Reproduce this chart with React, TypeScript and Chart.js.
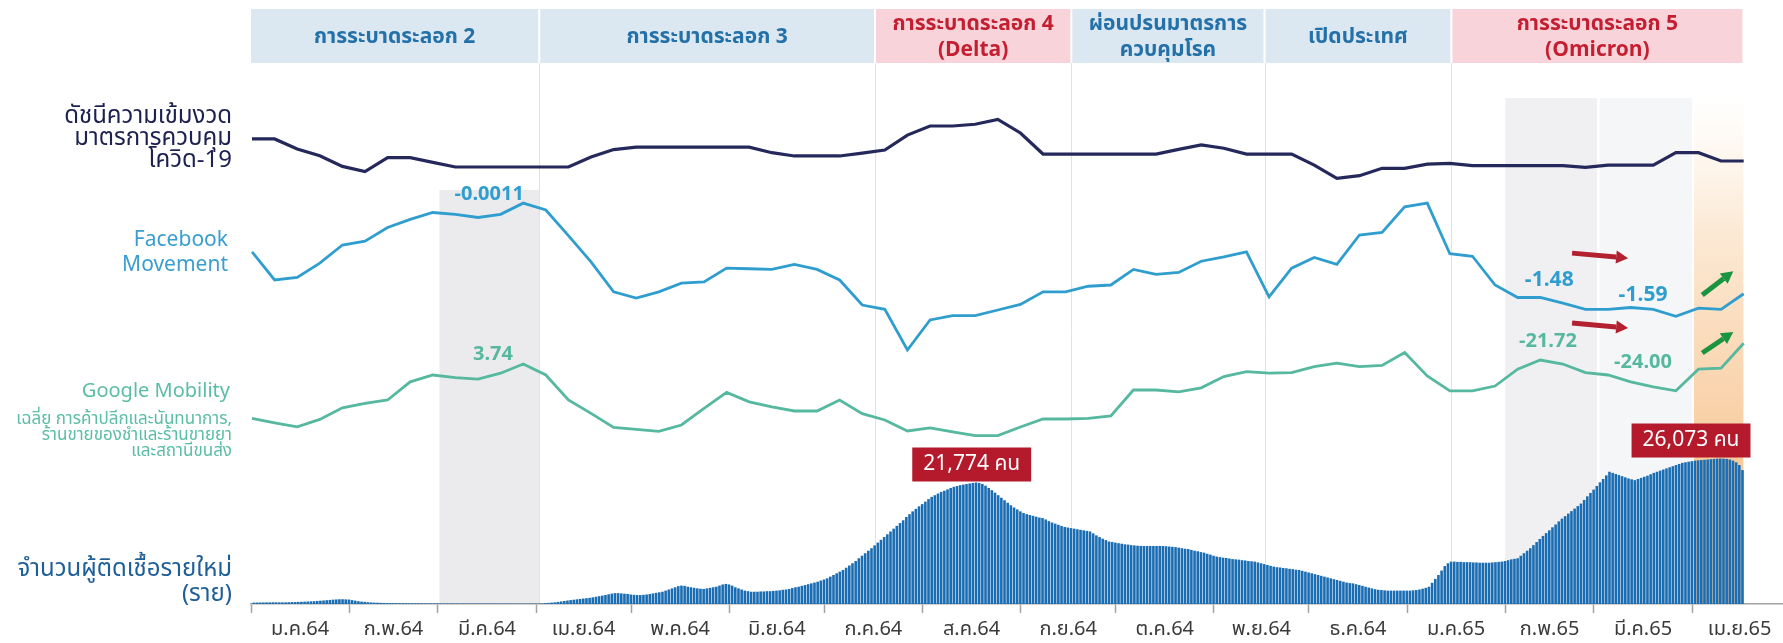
import React, { useEffect, useRef } from 'react';
import { Chart, registerables } from 'chart.js';

Chart.register(...registerables);

const FONT = "'Noto Sans Thai', 'Noto Sans Thai UI', 'Noto Sans', 'DejaVu Sans', sans-serif";

// ---------- x axis (days since 1 Jan 2021) ----------
const monthStartDays = [0, 31, 59, 90, 120, 151, 181, 212, 243, 273, 304, 334, 365, 396, 424, 455];
const monthEndDay = 485;
const monthLabels = ['ม.ค.64', 'ก.พ.64', 'มี.ค.64', 'เม.ย.64', 'พ.ค.64', 'มิ.ย.64', 'ก.ค.64', 'ส.ค.64', 'ก.ย.64', 'ต.ค.64', 'พ.ย.64', 'ธ.ค.64', 'ม.ค.65', 'ก.พ.65', 'มี.ค.65', 'เม.ย.65'];

// ---------- phases (header band) ----------
const phaseStartDays = [0, 91, 197, 259, 320, 379];
const phaseEndDays = [91, 197, 259, 320, 379, 471.2];
const phaseLabels = [
  ['การระบาดระลอก 2'],
  ['การระบาดระลอก 3'],
  ['การระบาดระลอก 4', '(Delta)'],
  ['ผ่อนปรนมาตรการ', 'ควบคุมโรค'],
  ['เปิดประเทศ'],
  ['การระบาดระลอก 5', '(Omicron)'],
];
const phaseIsWave = [false, false, true, false, false, true];

// ---------- weekly series ----------
const navyIndex = [66.2, 66.2, 61.0, 57.5, 52.0, 49.3, 56.5, 56.5, 54.1, 51.7,
  51.7, 51.7, 51.7, 51.7, 51.7, 56.9, 60.7, 62.0, 62.0, 62.0,
  62.0, 62.0, 62.0, 59.1, 57.4, 57.4, 57.4, 58.9, 60.5, 68.2,
  72.9, 72.9, 73.8, 76.3, 69.3, 58.4, 58.4, 58.4, 58.4, 58.4,
  58.4, 60.8, 63.1, 61.4, 58.4, 58.4, 58.4, 52.7, 45.8, 47.2,
  51.0, 51.0, 53.2, 53.6, 52.4, 52.4, 52.4, 52.4, 52.4, 51.5,
  52.7, 52.7, 52.7, 59.1, 59.1, 54.8, 54.8];

const facebookMovement = [-0.67, -1.12, -1.08, -0.85, -0.56, -0.50, -0.28, -0.15, -0.04, -0.07,
  -0.12, -0.07, 0.11, 0.00, -0.41, -0.83, -1.31, -1.41, -1.31, -1.17,
  -1.15, -0.93, -0.94, -0.95, -0.87, -0.95, -1.12, -1.52, -1.59, -2.24,
  -1.76, -1.69, -1.69, -1.60, -1.51, -1.31, -1.31, -1.22, -1.20, -0.95,
  -1.03, -1.00, -0.82, -0.75, -0.67, -1.39, -0.93, -0.76, -0.87, -0.40,
  -0.36, 0.05, 0.11, -0.70, -0.74, -1.20, -1.40, -1.40, -1.49, -1.59,
  -1.59, -1.56, -1.59, -1.70, -1.57, -1.59, -1.34];

const googleMobility = [-19.2, -21.4, -23.4, -19.7, -13.9, -11.7, -10.0, -0.9, 2.5, 1.2,
  0.4, 3.4, 8.0, 2.5, -10.0, -16.7, -23.7, -24.7, -25.7, -22.5,
  -14.2, -6.2, -10.9, -13.4, -15.5, -15.5, -10.0, -16.8, -20.0, -25.5,
  -23.9, -25.9, -27.8, -27.8, -23.5, -19.5, -19.5, -19.2, -17.9, -5.0,
  -5.0, -5.9, -3.9, 1.7, 4.2, 3.4, 3.7, 6.7, 8.4, 6.7,
  7.3, 13.7, 2.0, -5.4, -5.4, -3.0, 5.4, 10.0, 8.0, 3.7,
  2.5, -0.9, -3.4, -5.4, 5.4, 5.9, 18.4];

// ---------- daily new cases ----------
const casesJan21 = [250, 260, 270, 280, 290, 300, 310, 300, 290, 300, 300, 320, 340, 360, 380, 400, 420, 450, 480, 510, 550, 590, 630, 680, 730, 780, 820, 850, 850, 830, 800];
const casesFeb21 = [700, 600, 500, 430, 380, 330, 290, 250, 230, 210, 190, 180, 170, 160, 150, 150, 140, 140, 130, 130, 120, 120, 110, 110, 100, 100, 100, 100];
const casesMar21 = [90, 90, 90, 85, 85, 85, 80, 80, 80, 80, 80, 75, 75, 75, 75, 75, 70, 70, 70, 70, 70, 70, 65, 65, 65, 65, 65, 60, 60, 60, 60];
const casesApr21 = [60, 100, 150, 200, 250, 300, 380, 460, 540, 620, 700, 770, 840, 910, 980, 1040, 1100, 1200, 1300, 1400, 1500, 1620, 1740, 1860, 1950, 1950, 1900, 1850, 1800, 1700];
const casesMay21 = [1650, 1600, 1600, 1650, 1700, 1800, 1900, 2000, 2100, 2200, 2400, 2600, 2800, 3000, 3200, 3300, 3250, 3100, 3000, 2900, 2800, 2750, 2700, 2800, 2900, 3000, 3100, 3300, 3500, 3600, 3500];
const casesJun21 = [3300, 3000, 2800, 2600, 2400, 2300, 2200, 2200, 2200, 2250, 2250, 2300, 2300, 2350, 2400, 2450, 2550, 2600, 2700, 2850, 3000, 3100, 3250, 3400, 3550, 3700, 3850, 4000, 4200, 4400];
const casesJul21 = [4600, 4900, 5200, 5500, 5800, 6100, 6500, 6900, 7300, 7700, 8200, 8650, 9100, 9550, 10000, 10500, 11000, 11500, 12000, 12500, 13000, 13500, 14000, 14500, 15000, 15600, 16100, 16600, 17050, 17500, 17900];
const casesAug21 = [18350, 18800, 19200, 19500, 19800, 20100, 20300, 20550, 20800, 21000, 21150, 21300, 21400, 21500, 21600, 21700, 21774, 21700, 21500, 21200, 20800, 20400, 19950, 19500, 19050, 18600, 18150, 17700, 17300, 16950, 16600];
const casesSep21 = [16300, 16100, 15950, 15800, 15650, 15500, 15400, 15150, 14850, 14600, 14400, 14200, 14000, 13800, 13700, 13600, 13500, 13400, 13300, 13200, 13100, 13000, 12650, 12300, 12000, 11700, 11450, 11200, 11100, 11000];
const casesOct21 = [10900, 10800, 10700, 10650, 10550, 10500, 10450, 10400, 10400, 10400, 10400, 10400, 10400, 10400, 10400, 10350, 10300, 10250, 10200, 10100, 10000, 9900, 9850, 9700, 9550, 9450, 9300, 9200, 9000, 8850, 8650];
const casesNov21 = [8500, 8400, 8300, 8250, 8150, 8050, 8000, 7950, 7850, 7800, 7700, 7650, 7600, 7450, 7300, 7150, 7000, 6850, 6700, 6600, 6550, 6450, 6400, 6300, 6250, 6150, 6100, 5950, 5800, 5650];
const casesDec21 = [5500, 5350, 5200, 5050, 4900, 4750, 4600, 4450, 4300, 4150, 4000, 3850, 3750, 3700, 3550, 3400, 3250, 3100, 2950, 2800, 2650, 2550, 2500, 2450, 2400, 2400, 2400, 2400, 2400, 2400, 2400];
const casesJan22 = [2400, 2450, 2500, 2600, 2750, 2900, 3100, 3800, 4500, 5200, 6000, 6800, 7300, 7600, 7600, 7550, 7550, 7500, 7500, 7500, 7450, 7450, 7400, 7400, 7400, 7400, 7450, 7500, 7550, 7600, 7700];
const casesFeb22 = [7850, 8000, 8100, 8200, 8650, 9100, 9550, 10000, 10550, 11100, 11650, 12200, 12700, 13200, 13750, 14250, 14800, 15300, 15750, 16200, 16650, 17100, 17550, 18000, 18650, 19300, 19900, 20500];
const casesMar22 = [21150, 21800, 22400, 23050, 23700, 23500, 23300, 23100, 22900, 22700, 22500, 22350, 22200, 22400, 22600, 22800, 23000, 23250, 23500, 23700, 23900, 24100, 24300, 24500, 24700, 24900, 25100, 25300, 25400, 25500, 25600];
const casesApr22 = [25700, 25750, 25800, 25850, 25900, 25950, 26000, 26050, 26073, 26050, 26000, 25900, 25700, 25400, 24900, 24000];

const dailyCases = [
  ...casesJan21, ...casesFeb21, ...casesMar21, ...casesApr21, ...casesMay21, ...casesJun21,
  ...casesJul21, ...casesAug21, ...casesSep21, ...casesOct21, ...casesNov21, ...casesDec21,
  ...casesJan22, ...casesFeb22, ...casesMar22, ...casesApr22,
];

// ---------- colours ----------
const NAVY = '#25285b';
const FB = '#2f9ecf';
const GM = '#55b89f';
const BAR = '#1a6db2';

// ---------- annotations ----------
const valueNotes = [
  { text: '-0.0011', day: 75.2, axis: 'yFb', value: 0.22, color: FB, size: 20 },
  { text: '3.74', day: 76.4, axis: 'yGm', value: 12, color: GM, size: 20 },
  { text: '-1.48', day: 409.9, axis: 'yFb', value: -1.15, color: FB, size: 21 },
  { text: '-1.59', day: 439.5, axis: 'yFb', value: -1.39, color: FB, size: 21 },
  { text: '-21.72', day: 409.5, axis: 'yGm', value: 18.5, color: GM, size: 20 },
  { text: '-24.00', day: 439.5, axis: 'yGm', value: 8, color: GM, size: 20 },
];
const arrowNotes = [
  { d1: 417.1, v1: -0.69, d2: 434.8, v2: -0.77, axis: 'yFb', color: '#b3202f' },
  { d1: 417.1, v1: 28.5, d2: 434.8, v2: 26, axis: 'yGm', color: '#b3202f' },
  { d1: 458.2, v1: -1.36, d2: 468, v2: -0.98, axis: 'yFb', color: '#1b9442' },
  { d1: 458.2, v1: 13.5, d2: 468, v2: 24, axis: 'yGm', color: '#1b9442' },
];
const peakRanges = [
  { from: 180, to: 300, dx: -3 },
  { from: 400, to: 471, dx: -28 },
];

function drawArrow(ctx: CanvasRenderingContext2D, x1: number, y1: number, x2: number, y2: number, color: string) {
  const ang = Math.atan2(y2 - y1, x2 - x1);
  const head = 12;
  const half = 6.5;
  const bx = x2 - head * Math.cos(ang);
  const by = y2 - head * Math.sin(ang);
  ctx.strokeStyle = color;
  ctx.fillStyle = color;
  ctx.lineWidth = 5;
  ctx.lineCap = 'butt';
  ctx.beginPath();
  ctx.moveTo(x1, y1);
  ctx.lineTo(bx, by);
  ctx.stroke();
  ctx.beginPath();
  ctx.moveTo(x2, y2);
  ctx.lineTo(bx + half * Math.cos(ang + Math.PI / 2), by + half * Math.sin(ang + Math.PI / 2));
  ctx.lineTo(bx - half * Math.cos(ang + Math.PI / 2), by - half * Math.sin(ang + Math.PI / 2));
  ctx.closePath();
  ctx.fill();
}

const backgroundPlugin = {
  id: 'backgroundPlugin',
  beforeDraw(chart: any) {
    const { ctx, chartArea } = chart;
    const xs = chart.scales.x;
    const px = (d: number) => xs.getPixelForValue(d);
    const bottom = chartArea.bottom;
    ctx.save();
    ctx.fillStyle = '#ffffff';
    ctx.fillRect(0, 0, chart.width, chart.height);

    // shaded periods
    ctx.fillStyle = '#ebebee';
    ctx.fillRect(px(59.5), 190, px(91) - px(59.5), bottom - 190);
    ctx.fillStyle = '#f0f0f3';
    ctx.fillRect(px(396), 98, px(425) - px(396), bottom - 98);
    ctx.fillStyle = '#f5f6f8';
    ctx.fillRect(px(425.8), 98, px(455) - px(425.8), bottom - 98);
    const g = ctx.createLinearGradient(0, 95, 0, 470);
    g.addColorStop(0, 'rgba(253,240,226,0)');
    g.addColorStop(0.35, 'rgba(252,234,214,1)');
    g.addColorStop(1, 'rgba(248,202,155,1)');
    ctx.fillStyle = g;
    ctx.fillRect(px(455.6), 95, px(471.2) - px(455.6), bottom - 95);

    // phase separators
    ctx.strokeStyle = '#e2e2e4';
    ctx.lineWidth = 1;
    for (let i = 1; i < phaseStartDays.length; i++) {
      const x = Math.round(px(phaseStartDays[i])) + 0.5;
      ctx.beginPath();
      ctx.moveTo(x, 63);
      ctx.lineTo(x, bottom);
      ctx.stroke();
    }

    // header band
    const top = 9;
    const h = 54;
    for (let i = 0; i < phaseStartDays.length; i++) {
      const x1 = px(phaseStartDays[i]) + (i === 0 ? 0 : 1);
      const x2 = px(phaseEndDays[i]) - 1;
      ctx.fillStyle = phaseIsWave[i] ? '#f9d3da' : '#dce8f1';
      ctx.fillRect(x1, top, x2 - x1, h);
      ctx.fillStyle = phaseIsWave[i] ? '#c41f31' : '#2470a8';
      ctx.font = `bold 21px ${FONT}`;
      ctx.textAlign = 'center';
      ctx.textBaseline = 'middle';
      const lines = phaseLabels[i];
      const cx = (x1 + x2) / 2;
      if (lines.length === 1) {
        ctx.fillText(lines[0], cx, top + h / 2 + 3);
      } else {
        ctx.fillText(lines[0], cx, top + 17);
        ctx.fillText(lines[1], cx, top + 43);
      }
    }

    // left labels
    ctx.textAlign = 'right';
    ctx.textBaseline = 'middle';
    const rx = 232;
    ctx.fillStyle = '#1d2150';
    ctx.font = `24px ${FONT}`;
    ctx.fillText('ดัชนีความเข้มงวด', rx, 118);
    ctx.fillText('มาตรการควบคุม', rx, 140);
    ctx.fillText('โควิด-19', rx, 162);
    ctx.fillStyle = '#3a9fd0';
    ctx.font = `21px ${FONT}`;
    ctx.fillText('Facebook', rx - 4, 242);
    ctx.fillText('Movement', rx - 4, 267);
    ctx.fillStyle = '#5bbda5';
    ctx.font = `20px ${FONT}`;
    ctx.fillText('Google Mobility', rx - 2, 393);
    ctx.font = `17px ${FONT}`;
    ctx.fillText('เฉลี่ย การค้าปลีกและนันทนาการ,', rx, 421);
    ctx.fillText('ร้านขายของชำและร้านขายยา', rx, 437);
    ctx.fillText('และสถานีขนส่ง', rx, 453);
    ctx.fillStyle = '#1f5f98';
    ctx.font = `24px ${FONT}`;
    ctx.fillText('จำนวนผู้ติดเชื้อรายใหม่', rx, 571);
    ctx.fillText('(ราย)', rx, 596);
    ctx.restore();
  },
  afterDatasetsDraw(chart: any) {
    const { ctx } = chart;
    const xs = chart.scales.x;
    ctx.save();
    ctx.textAlign = 'center';
    ctx.textBaseline = 'middle';
    for (const n of valueNotes) {
      ctx.fillStyle = n.color;
      ctx.font = `bold ${n.size}px ${FONT}`;
      ctx.fillText(n.text, xs.getPixelForValue(n.day), chart.scales[n.axis].getPixelForValue(n.value));
    }
    for (const a of arrowNotes) {
      const ys = chart.scales[a.axis];
      drawArrow(ctx, xs.getPixelForValue(a.d1), ys.getPixelForValue(a.v1), xs.getPixelForValue(a.d2), ys.getPixelForValue(a.v2), a.color);
    }
    const yc = chart.scales.yCases;
    for (const p of peakRanges) {
      let best = p.from;
      for (let d = p.from; d <= p.to && d < dailyCases.length; d++) {
        if (dailyCases[d] > dailyCases[best]) best = d;
      }
      const val = dailyCases[best];
      const text = `${val.toLocaleString('en-US')} คน`;
      ctx.font = `21px ${FONT}`;
      const w = ctx.measureText(text).width + 22;
      const hgt = 34;
      const cx = xs.getPixelForValue(best + 0.5) + p.dx;
      const by = yc.getPixelForValue(val) - 1;
      ctx.fillStyle = '#b41a2c';
      ctx.fillRect(cx - w / 2, by - hgt, w, hgt);
      ctx.fillStyle = '#ffffff';
      ctx.fillText(text, cx, by - hgt / 2 + 1);
    }
    ctx.restore();
  },
};

const tickValues: number[] = [];
const labelMap = new Map<number, string>();
const boundarySet = new Set<number>(monthStartDays);
monthStartDays.forEach((d, i) => {
  const next = i + 1 < monthStartDays.length ? monthStartDays[i + 1] : monthEndDay;
  const mid = (d + next) / 2;
  tickValues.push(d, mid);
  labelMap.set(mid, monthLabels[i]);
});
tickValues.sort((a, b) => a - b);

export default function App() {
  const ref = useRef<HTMLCanvasElement | null>(null);
  useEffect(() => {
    if (!ref.current) return;
    const chart = new Chart(ref.current, {
      type: 'bar',
      data: {
        datasets: [
          {
            type: 'line', label: 'ดัชนีความเข้มงวด', data: navyIndex.map((v, i) => ({ x: i, y: v })),
            xAxisID: 'xw', yAxisID: 'yNavy', borderColor: NAVY, borderWidth: 3.2, pointRadius: 0, tension: 0, order: 1,
          } as any,
          {
            type: 'line', label: 'Facebook Movement', data: facebookMovement.map((v, i) => ({ x: i, y: v })),
            xAxisID: 'xw', yAxisID: 'yFb', borderColor: FB, borderWidth: 2.8, pointRadius: 0, tension: 0, order: 2,
          } as any,
          {
            type: 'line', label: 'Google Mobility', data: googleMobility.map((v, i) => ({ x: i, y: v })),
            xAxisID: 'xw', yAxisID: 'yGm', borderColor: GM, borderWidth: 2.8, pointRadius: 0, tension: 0, order: 3,
          } as any,
          {
            type: 'bar', label: 'ผู้ติดเชื้อรายใหม่', data: dailyCases.map((v, d) => ({ x: d + 0.5, y: v })),
            xAxisID: 'x', yAxisID: 'yCases', backgroundColor: BAR, borderWidth: 0,
            barThickness: 2.6, inflateAmount: 0, order: 5,
          } as any,
        ],
      },
      options: {
        responsive: false,
        animation: false,
        devicePixelRatio: 1,
        events: [],
        layout: { padding: { left: 251, right: 0, top: 9, bottom: 0 } },
        plugins: { legend: { display: false }, tooltip: { enabled: false } },
        scales: {
          x: {
            type: 'linear', position: 'bottom', min: 0, max: 483.7, offset: false,
            afterBuildTicks: (s: any) => { s.ticks = tickValues.map((v) => ({ value: v })); },
            afterFit: (s: any) => { s.height = 39; },
            grid: {
              display: true, drawOnChartArea: false, drawTicks: true, tickLength: 9, tickWidth: 1.5, offset: false,
              tickColor: (c: any) => (c.tick && boundarySet.has(c.tick.value) ? '#a3a3a3' : 'rgba(0,0,0,0)'),
            },
            border: { display: true, color: '#a3a3a3', width: 1.5 },
            ticks: {
              autoSkip: false, maxRotation: 0, minRotation: 0, padding: 6, color: '#3b3b3b',
              font: { family: FONT, size: 20 },
              callback: (v: any) => labelMap.get(Number(v)) ?? '',
            },
          },
          xw: { type: 'linear', display: false, min: -0.044, max: 67.74, offset: false },
          yNavy: { type: 'linear', display: false, min: -174.32, max: 133.41 },
          yFb: { type: 'linear', display: false, min: -6.304, max: 3.216 },
          yGm: { type: 'linear', display: false, min: -112, max: 185.5 },
          yCases: { type: 'linear', display: false, min: 0, max: 106631 },
        },
      } as any,
      plugins: [backgroundPlugin],
    });
    return () => chart.destroy();
  }, []);
  return (
    <div style={{ position: 'absolute', left: 0, top: 0, width: 1783, height: 643, background: '#fff' }}>
      <canvas ref={ref} width={1783} height={643} style={{ display: 'block', width: 1783, height: 643 }} />
    </div>
  );
}
